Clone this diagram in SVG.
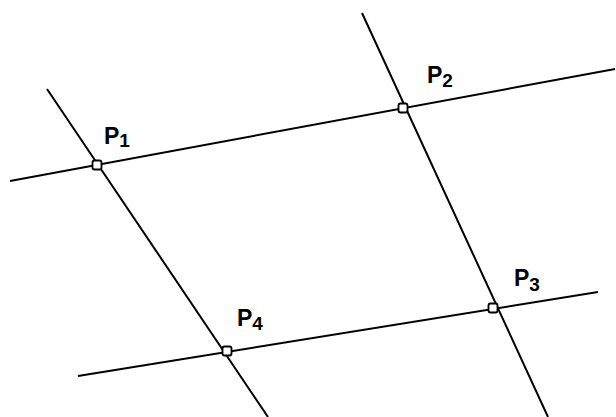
<svg xmlns="http://www.w3.org/2000/svg" width="616" height="417" viewBox="0 0 616 417">
<style>
.ln{stroke:#000;stroke-width:2;fill:none}
.pt{fill:#fff;stroke:#000;stroke-width:1.8}
.lb{font-family:"Liberation Sans",Arial,sans-serif;font-weight:bold;fill:#000}
.p{font-size:23px}
.s{font-size:19px}
</style>
<rect width="616" height="417" fill="#fff"/>
<g id="connectors">
<line class="ln" x1="10" y1="181" x2="615" y2="69"/>
<line class="ln" x1="78" y1="376" x2="598" y2="292"/>
<line class="ln" x1="47" y1="89" x2="268" y2="417"/>
<line class="ln" x1="362" y1="13" x2="548" y2="417"/>
</g>
<g id="P1"><rect class="pt" x="92.5" y="160.5" width="9" height="9" rx="2"/><text class="lb" x="104" y="144"><tspan class="p">P</tspan><tspan class="s" dy="3">1</tspan></text></g>
<g id="P2"><rect class="pt" x="398.5" y="103.5" width="9" height="9" rx="2"/><text class="lb" x="427" y="83"><tspan class="p">P</tspan><tspan class="s" dy="4">2</tspan></text></g>
<g id="P3"><rect class="pt" x="488.5" y="303.5" width="9" height="9" rx="2"/><text class="lb" x="514" y="286"><tspan class="p">P</tspan><tspan class="s" dy="5">3</tspan></text></g>
<g id="P4"><rect class="pt" x="222.5" y="346.5" width="9" height="9" rx="2"/><text class="lb" x="237" y="326"><tspan class="p">P</tspan><tspan class="s" dy="4">4</tspan></text></g>
</svg>
